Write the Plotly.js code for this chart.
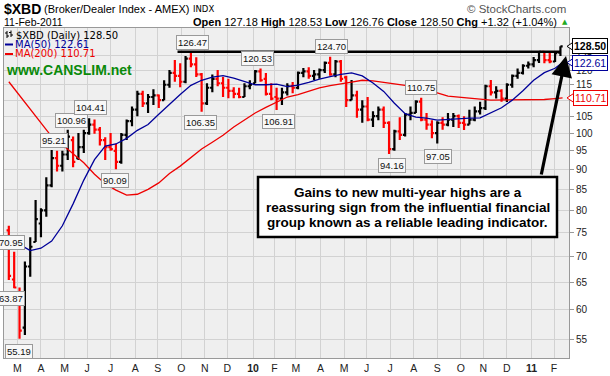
<!DOCTYPE html>
<html><head><meta charset="utf-8">
<script src="https://cdn.plot.ly/plotly-3.0.1.min.js"></script>
<style>html,body{margin:0;padding:0;background:#fff}#chart{width:610px;height:376px}</style>
</head><body><div id="chart"></div>
<script>
// ---------- DATA (weekly bars) ----------
const weekDates = [
'2009-02-18','2009-02-25','2009-03-04','2009-03-11','2009-03-18','2009-03-25','2009-04-01','2009-04-08','2009-04-15','2009-04-22','2009-04-29',
'2009-05-06','2009-05-13','2009-05-20','2009-05-27','2009-06-03','2009-06-10','2009-06-17','2009-06-24','2009-07-01','2009-07-08','2009-07-15',
'2009-07-22','2009-07-29','2009-08-05','2009-08-12','2009-08-19','2009-08-26','2009-09-02','2009-09-09','2009-09-16','2009-09-23','2009-09-30',
'2009-10-07','2009-10-14','2009-10-21','2009-10-28','2009-11-04','2009-11-11','2009-11-18','2009-11-25','2009-12-02','2009-12-09','2009-12-16',
'2009-12-23','2009-12-30','2010-01-06','2010-01-13','2010-01-20','2010-01-27','2010-02-03','2010-02-10','2010-02-17','2010-02-24','2010-03-03',
'2010-03-10','2010-03-17','2010-03-24','2010-03-31','2010-04-07','2010-04-14','2010-04-21','2010-04-28','2010-05-05','2010-05-12','2010-05-19',
'2010-05-26','2010-06-02','2010-06-09','2010-06-16','2010-06-23','2010-06-30','2010-07-07','2010-07-14','2010-07-21','2010-07-28','2010-08-04',
'2010-08-11','2010-08-18','2010-08-25','2010-09-01','2010-09-08','2010-09-15','2010-09-22','2010-09-29','2010-10-06','2010-10-13','2010-10-20',
'2010-10-27','2010-11-03','2010-11-10','2010-11-17','2010-11-24','2010-12-01','2010-12-08','2010-12-15','2010-12-22','2010-12-29','2011-01-05',
'2011-01-12','2011-01-19','2011-01-26','2011-02-02','2011-02-09'];
const openP = [75.5,65.5,63.0,57.0,68.0,73.0,77.0,80.0,86.0,93.0,91.0,
94.0,98.0,93.0,96.0,100.0,102.5,101.0,98.0,96.0,95.0,92.0,
99.5,103.5,107.0,112.0,109.0,111.0,111.5,110.0,115.0,119.0,118.0,
116.0,124.0,122.0,118.5,109.0,114.0,117.0,115.5,114.0,113.0,112.0,
111.0,114.5,115.5,119.5,117.0,112.0,111.0,110.5,112.5,114.5,114.0,
119.0,119.5,118.0,118.5,120.0,122.5,118.5,123.0,117.5,110.0,111.5,
107.0,108.0,104.0,105.0,107.0,103.0,95.5,100.5,99.5,105.5,106.0,
109.5,104.0,102.5,100.0,103.0,102.5,104.0,105.0,103.0,102.5,104.0,
106.5,107.5,114.5,112.5,113.0,110.5,115.0,118.0,119.0,121.5,122.0,
123.5,126.5,123.5,123.0,126.2];
const highP = [76.5,70.95,64.0,69.0,74.0,82.4,80.5,88.0,95.21,95.0,95.0,
100.96,99.0,100.0,101.0,104.41,104.0,101.8,98.8,100.0,97.0,100.0,
104.0,108.0,113.0,113.0,112.0,113.5,111.8,116.5,120.0,123.5,122.4,
125.0,126.47,124.5,119.0,115.5,118.5,120.0,117.6,117.0,114.2,114.0,
115.5,116.5,120.0,120.53,119.0,115.5,114.0,114.0,115.5,115.9,119.5,
120.7,121.0,120.0,120.5,123.0,124.70,123.5,123.5,118.0,116.6,113.0,
110.0,111.0,106.5,108.0,108.0,103.5,101.0,104.7,106.0,108.0,110.0,
110.75,106.0,103.8,103.5,104.7,106.0,106.0,105.5,105.0,107.0,108.0,
109.5,115.0,116.6,114.5,113.5,115.5,118.5,120.5,122.0,123.0,124.6,
126.6,126.5,126.3,126.8,128.53];
const lowP = [65.4,63.87,55.19,55.8,66.0,73.0,74.0,78.5,85.5,89.5,89.5,
92.5,90.6,92.5,94.4,99.5,99.8,96.5,92.5,95.0,90.09,91.5,
98.0,102.0,105.0,107.8,106.0,108.5,107.5,110.0,114.0,116.0,114.2,
115.5,121.0,117.6,106.35,108.5,112.5,114.5,111.0,110.6,110.6,110.6,
111.0,113.5,115.5,116.0,111.5,110.0,106.91,108.5,111.5,112.2,113.5,
117.5,117.0,116.6,117.0,119.0,118.0,117.5,116.0,107.8,110.0,104.5,
103.0,103.5,101.8,103.8,101.5,94.16,95.0,98.0,99.0,103.8,106.0,
103.5,101.0,98.5,97.05,101.0,102.0,101.8,101.5,100.9,102.5,103.5,
105.5,106.9,111.5,110.5,109.5,109.4,114.0,117.0,118.5,120.5,121.0,
122.5,122.4,122.4,122.8,125.0];
const closeP = [66.2,64.0,56.5,68.0,72.0,78.0,80.0,86.0,93.0,91.0,94.0,
99.0,92.0,96.0,100.0,102.5,101.0,98.0,96.0,95.5,92.0,99.5,
103.5,107.0,112.0,109.0,111.0,111.5,110.0,115.0,119.0,118.0,116.0,
124.0,122.0,118.5,109.0,114.0,117.0,115.5,114.0,113.0,112.0,111.0,
114.5,115.0,119.5,116.5,112.0,110.5,110.5,112.5,114.5,114.0,119.0,
119.5,118.0,118.5,120.0,122.5,118.5,123.0,117.0,110.0,111.5,107.0,
108.0,104.0,105.0,107.0,103.0,95.5,100.5,99.5,105.5,106.0,109.5,
104.0,102.5,100.0,103.0,102.5,104.0,105.0,103.0,102.5,104.0,106.5,
107.5,114.5,112.5,113.0,110.5,115.0,118.0,119.0,121.5,122.0,123.5,
126.5,123.5,123.0,126.0,128.50];

const maDates = ['2009-02-18','2009-03-04','2009-03-18','2009-04-01','2009-04-15','2009-04-29','2009-05-13','2009-05-27','2009-06-10','2009-06-24',
'2009-07-08','2009-07-22','2009-08-05','2009-08-19','2009-09-02','2009-09-16','2009-09-30','2009-10-14','2009-10-28','2009-11-11','2009-11-25',
'2009-12-09','2009-12-23','2010-01-06','2010-01-20','2010-02-03','2010-02-17','2010-03-03','2010-03-17','2010-03-31','2010-04-14','2010-04-28',
'2010-05-12','2010-05-26','2010-06-09','2010-06-23','2010-07-07','2010-07-21','2010-08-04','2010-08-18','2010-09-01','2010-09-15','2010-09-29',
'2010-10-13','2010-10-27','2010-11-10','2010-11-24','2010-12-08','2010-12-22','2011-01-05','2011-01-19','2011-02-02','2011-02-11'];
const ma50 = [74.2,72.5,71.2,71.7,73.2,76.5,81.5,87.3,92.6,96.3,96.9,98.5,100.8,102.5,105.6,108.8,111.8,114.8,116.5,117.6,118.1,
117.2,116.0,115.0,115.0,115.2,114.4,114.9,115.8,116.9,117.7,118.5,119.0,118.0,115.6,112.8,109.0,105.8,104.7,104.4,103.8,104.0,104.4,
104.4,104.5,106.0,107.6,110.0,113.0,116.5,119.1,120.6,122.61];
const ma200 = [116.0,111.5,107.1,102.8,99.0,96.7,94.3,91.8,88.8,86.4,84.8,83.6,83.8,85.0,86.6,89.0,90.9,93.2,95.5,97.4,99.4,
101.8,104.0,106.0,107.7,109.3,111.0,111.8,113.0,114.0,114.7,115.4,115.9,116.5,116.3,115.8,115.3,114.8,114.0,113.2,112.3,111.3,110.9,
110.6,110.3,110.0,110.0,110.0,110.0,110.1,110.2,110.5,110.71];

const resistanceDates = ['2009-09-28','2011-02-10'];
const resistanceLevel = [126.47,126.47];

const monthTicks = ['2009-03-02','2009-04-01','2009-05-01','2009-06-01','2009-07-01','2009-08-03','2009-09-01','2009-10-01','2009-11-02','2009-12-01',
'2010-01-04','2010-02-01','2010-03-01','2010-04-01','2010-05-03','2010-06-01','2010-07-01','2010-08-02','2010-09-01','2010-10-01','2010-11-01',
'2010-12-01','2011-01-03','2011-02-01'];
const monthLabels = ['M','A','M','J','J','A','S','O','N','D','<b>10</b>','F','M','A','M','J','J','A','S','O','N','D','<b>11</b>','F'];
const yTicks = [55,60,65,70,75,80,85,90,95,100,105,110,115,120,125];
// the 110 label sits under the MA(200) value box in the reference
const yTickLabels = ['55','60','65','70','75','80','85','90','95','100','105','','115','120','125'];

const lastClose = 128.50, lastMA50 = 122.61, lastMA200 = 110.71;

// ---------- LAYOUT HELPERS ----------
const L=4, T=28, W=565, H=330, Y0=52.2, Y1=135.5;
const px = x => (x-L)/W;
const py = y => (T+H-y)/H;
const yPix = v => T + H*(Math.log10(Y1)-Math.log10(v))/(Math.log10(Y1)-Math.log10(Y0));
const SANS = 'Liberation Sans, Arial, sans-serif';
const VERD = 'DejaVu Sans, Verdana, sans-serif';

const noon = d => d + ' 12:00';

const traces = [
  {type:'scatter', mode:'lines', x: maDates.map(noon), y: ma200, line:{color:'#ee0000', width:1.3}, hoverinfo:'skip', showlegend:false},
  {type:'ohlc', x: weekDates.map(noon), open: openP, high: highP, low: lowP, close: closeP,
   increasing:{line:{color:'#000000', width:2.2}}, decreasing:{line:{color:'#ff0000', width:2.2}},
   tickwidth:0.3, hoverinfo:'skip', showlegend:false},
  {type:'scatter', mode:'lines', x: maDates.map(noon), y: ma50, line:{color:'#000099', width:1.3}, hoverinfo:'skip', showlegend:false},
  {type:'scatter', mode:'lines', x: resistanceDates, y: resistanceLevel, line:{color:'#000000', width:2.5}, hoverinfo:'skip', showlegend:false}
];

const ann = [];
const shapes = [];
function txt(text, x, y, o){ ann.push(Object.assign({xref:'paper', yref:'paper', x:px(x), y:py(y), text, showarrow:false, xanchor:'left', yanchor:'middle'}, o||{})); }

// header
txt('<b>$XBD</b>', 2, 9, {font:{family:SANS, size:14, color:'#000'}});
txt('(Broker/Dealer Index - AMEX)', 42, 9.5, {font:{family:SANS, size:11, color:'#000'}});
txt('INDX', 191, 9.5, {font:{family:VERD, size:8.5, color:'#000'}});
txt('© StockCharts.com', 568, 9, {xanchor:'right', font:{family:SANS, size:11.5, color:'#555'}});
txt('11-Feb-2011', 2, 22, {font:{family:SANS, size:10.5, color:'#000'}});
txt('<b>Open</b> 127.18 <b>High</b> 128.53 <b>Low</b> 126.76 <b>Close</b> 128.50 <b>Chg</b> +1.32 (+1.04%)', 559, 22, {xanchor:'right', font:{family:SANS, size:11, color:'#000'}});
txt('▲', 560, 22, {font:{family:VERD, size:7, color:'#22aa22'}});

// legend inside plot
txt('$XBD (Daily) 128.50', 14, 35, {font:{family:VERD, size:10, color:'#000'}});
txt('MA(50) 122.61', 13, 44.5, {font:{family:VERD, size:10, color:'#000099'}});
txt('MA(200) 110.71', 13, 54, {font:{family:VERD, size:10, color:'#ee0000'}});
txt('<b>www.CANSLIM.net</b>', 4, 70, {font:{family:SANS, size:14, color:'#0a8a0a'}});
shapes.push({type:'line', xref:'paper', yref:'paper', x0:px(5), x1:px(13), y0:py(44.5), y1:py(44.5), line:{color:'#000099', width:2}});
shapes.push({type:'line', xref:'paper', yref:'paper', x0:px(5), x1:px(13), y0:py(54), y1:py(54), line:{color:'#ee0000', width:2}});
// small ohlc glyph
[[7,31,38],[11,30.5,37]].forEach(g=>{
  shapes.push({type:'line', xref:'paper', yref:'paper', x0:px(g[0]), x1:px(g[0]), y0:py(g[1]), y1:py(g[2]), line:{color:'#000', width:1}});
  shapes.push({type:'line', xref:'paper', yref:'paper', x0:px(g[0]-2), x1:px(g[0]), y0:py(g[1]+2), y1:py(g[1]+2), line:{color:'#000', width:1}});
  shapes.push({type:'line', xref:'paper', yref:'paper', x0:px(g[0]), x1:px(g[0]+2), y0:py(g[2]-2), y1:py(g[2]-2), line:{color:'#000', width:1}});
});

// price labels
const lbl = {bgcolor:'#f8f8f8', bordercolor:'#9a9a9a', borderwidth:1, borderpad:1, xanchor:'center', font:{family:SANS, size:9.5, color:'#111'}};
[['70.95',11,242],['63.87',11,298.5],['55.19',18.5,351],['95.21',54,140],['100.96',71,120],['104.41',90.5,107.5],
 ['90.09',114.5,180],['126.47',192,42],['106.35',200,122.5],['120.53',257,58.5],['106.91',278,121.5],['124.70',331.5,46.5],
 ['94.16',391.5,165],['110.75',420.5,87],['97.05',438,156]].forEach(a=>txt(a[0], a[1], a[2], lbl));

// right value boxes
[[lastClose,'#000000',true],[lastMA50,'#000099',false],[lastMA200,'#ee0000',false]].forEach(b=>{
  const y = yPix(b[0]);
  const t = b[2] ? '<b>'+b[0].toFixed(2)+'</b>' : b[0].toFixed(2);
  txt(t, 590, y, {xanchor:'center', bgcolor:'#ffffff', bordercolor:b[1], borderwidth:1, borderpad:1, font:{family:SANS, size:10.5, color:b[1]}});
  shapes.push({type:'path', xref:'paper', yref:'paper', path:`M ${px(573)} ${py(y-4)} L ${px(567)} ${py(y)} L ${px(573)} ${py(y+4)}`, line:{color:b[1], width:1}, fillcolor:'#ffffff'});
});

// comment box
shapes.push({type:'rect', xref:'paper', yref:'paper', x0:px(258), x1:px(557), y0:py(177), y1:py(237), fillcolor:'#ffffff', line:{color:'#000', width:2.5}});
const boxFont = {family:SANS, size:13.5, color:'#000'};
txt('<b>Gains to new multi-year highs are a</b>', 407.5, 192.5, {xanchor:'center', font:boxFont});
txt('<b>reassuring sign from the influential financial</b>', 407.5, 207, {xanchor:'center', font:boxFont});
txt('<b>group known as a reliable leading indicator.</b>', 407.5, 222, {xanchor:'center', font:boxFont});

// arrow
ann.push({xref:'paper', yref:'paper', x:px(566), y:py(56), ax:-25, ay:120, text:'', showarrow:true, arrowhead:2, arrowsize:1.3, arrowwidth:3.2, arrowcolor:'#000', standoff:0});

const layout = {
  width:610, height:376, margin:{l:L, r:610-L-W, t:T, b:376-T-H, pad:0},
  paper_bgcolor:'#ffffff', plot_bgcolor:'#efefef', showlegend:false, dragmode:false,
  xaxis:{type:'date', range:['2009-02-12 00:00','2011-02-21 12:00'], rangebreaks:[{bounds:['sat','mon']}],
    tickmode:'array', tickvals: monthTicks.map(noon), ticktext: monthLabels, ticks:'',
    showgrid:true, gridcolor:'#d2d2d2', gridwidth:1, showline:true, mirror:true, linecolor:'#999', linewidth:1,
    zeroline:false, rangeslider:{visible:false}, fixedrange:true,
    tickfont:{family:SANS, size:10.5, color:'#222'}},
  yaxis:{type:'log', side:'right', range:[Math.log10(Y0), Math.log10(Y1)], tickmode:'array', tickvals:yTicks, ticktext:yTickLabels,
    ticks:'outside', ticklen:4, tickcolor:'#999', showgrid:true, gridcolor:'#d2d2d2', gridwidth:1,
    showline:true, mirror:true, linecolor:'#999', linewidth:1, zeroline:false, fixedrange:true,
    tickfont:{family:SANS, size:10, color:'#222'}},
  annotations: ann, shapes: shapes
};
Plotly.newPlot('chart', traces, layout, {displayModeBar:false, staticPlot:true});
</script></body></html>
